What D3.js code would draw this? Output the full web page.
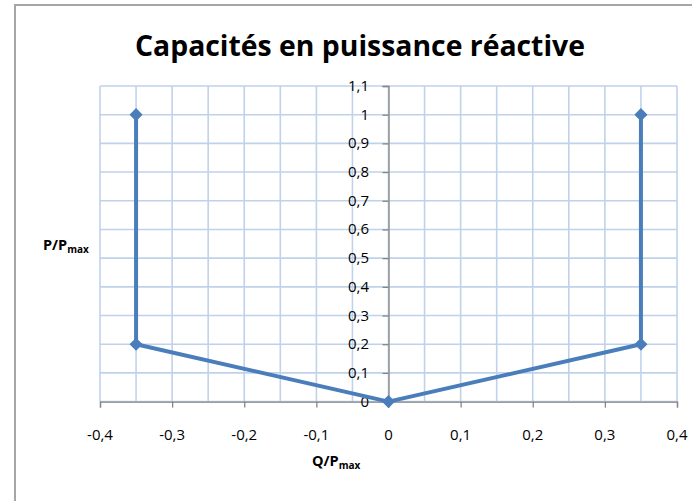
<!DOCTYPE html>
<html><head><meta charset="utf-8">
<script src="https://cdn.jsdelivr.net/npm/d3@7/dist/d3.min.js"></script>
<style>body{margin:0;background:#fff}</style>
</head><body>
<svg id="c" width="692" height="501"></svg>
<script>
const qValues = [-0.35, -0.35, 0, 0.35, 0.35];
const pValues = [1, 0.2, 0, 0.2, 1];
const xTicks = [-0.4, -0.3, -0.2, -0.1, 0, 0.1, 0.2, 0.3, 0.4];
const yTicks = [0, 0.1, 0.2, 0.3, 0.4, 0.5, 0.6, 0.7, 0.8, 0.9, 1, 1.1];
const xGrid = d3.range(-8, 9).map(i => i * 0.05);
const title = "Capacités en puissance réactive";

const svg = d3.select("#c");
const font = "'Open Sans', sans-serif";
const fmt = d => d3.format(".1~f")(d).replace(".", ",").replace("−", "-");

svg.append("rect").attr("x", 15).attr("y", 5).attr("width", 700).attr("height", 520)
  .attr("fill", "#fff").attr("stroke", "#a6a6a6").attr("stroke-width", 2);

const x = d3.scaleLinear().domain([-0.4, 0.4]).range([100, 677]);
const y = d3.scaleLinear().domain([0, 1.1]).range([401.6, 86]);

const g = svg.append("g");
g.selectAll("line.vg").data(xGrid).join("line")
  .attr("x1", d => x(d)).attr("x2", d => x(d)).attr("y1", y(0)).attr("y2", y(1.1))
  .attr("stroke", "#c0d2ea").attr("stroke-width", 1.6);
g.selectAll("line.hg").data(yTicks).join("line")
  .attr("x1", x(-0.4)).attr("x2", x(0.4)).attr("y1", d => y(d)).attr("y2", d => y(d))
  .attr("stroke", "#c0d2ea").attr("stroke-width", 1.6);

// axes
const xAxis = d3.axisBottom(x).tickValues(xTicks).tickFormat("").tickSizeInner(6).tickSizeOuter(6);
const xa = svg.append("g").attr("transform", `translate(0,${y(0)})`).call(xAxis);
xa.selectAll("path, line").attr("stroke", "#868686").attr("stroke-width", 1.3);
const yAxis = d3.axisLeft(y).tickValues(yTicks).tickFormat("").tickSizeInner(6).tickSizeOuter(6);
const ya = svg.append("g").attr("transform", `translate(${x(0)},0)`).call(yAxis);
ya.selectAll("path, line").attr("stroke", "#868686").attr("stroke-width", 1.3);

svg.append("g").selectAll("text").data(xTicks).join("text")
  .attr("x", d => x(d)).attr("y", 440).attr("text-anchor", "middle")
  .attr("font-family", font).attr("font-size", 15).attr("fill", "#000")
  .text(d => fmt(d));
svg.append("g").selectAll("text").data(yTicks).join("text")
  .attr("x", 369).attr("y", d => y(d) + 5).attr("text-anchor", "end")
  .attr("font-family", font).attr("font-size", 15).attr("fill", "#000")
  .text(d => fmt(d));

// series
const pts = qValues.map((q, i) => [q, pValues[i]]);
svg.append("path").datum(pts)
  .attr("d", d3.line().x(d => x(d[0])).y(d => y(d[1])))
  .attr("fill", "none").attr("stroke", "#4a7ebb").attr("stroke-width", 4).attr("stroke-linejoin", "round");
svg.append("g").selectAll("path").data(pts).join("path")
  .attr("d", d3.symbol(d3.symbolDiamond2, 110)())
  .attr("transform", d => `translate(${x(d[0])},${y(d[1])})`)
  .attr("fill", "#4a7ebb");

// title
svg.append("text").attr("x", 360).attr("y", 56).attr("text-anchor", "middle")
  .attr("font-family", font).attr("font-weight", "bold").attr("font-size", 29)
  .attr("textLength", 450).attr("lengthAdjust", "spacingAndGlyphs")
  .attr("fill", "#000").text(title);

// axis titles
const yt = svg.append("text").attr("x", 43).attr("y", 250)
  .attr("font-family", font).attr("font-weight", "bold").attr("font-size", 14.5);
yt.append("tspan").text("P/P");
yt.append("tspan").attr("font-size", 10).attr("dy", 3).text("max");
const xt = svg.append("text").attr("x", 312).attr("y", 466)
  .attr("font-family", font).attr("font-weight", "bold").attr("font-size", 14.5);
xt.append("tspan").text("Q/P");
xt.append("tspan").attr("font-size", 10).attr("dy", 3).text("max");
</script>
</body></html>
